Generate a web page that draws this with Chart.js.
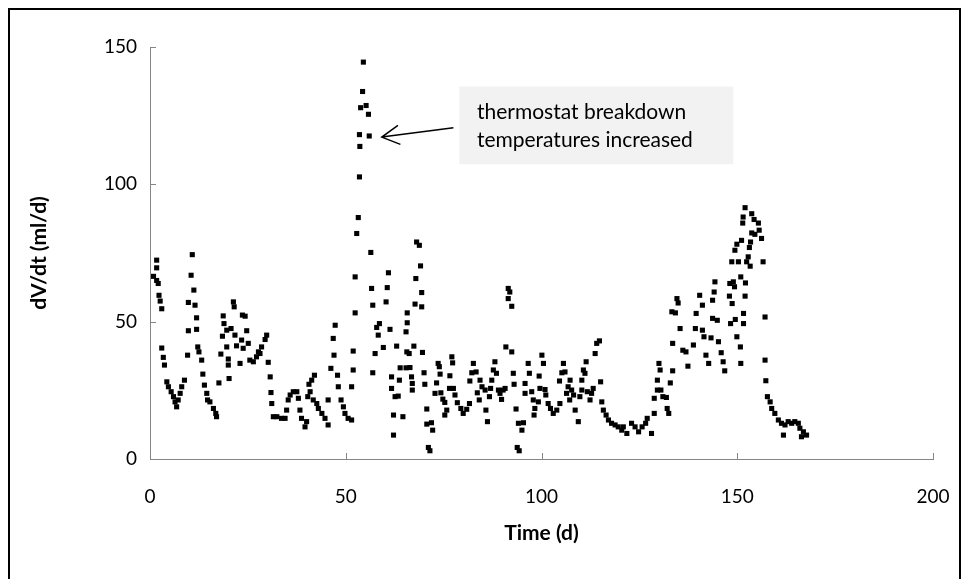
<!DOCTYPE html>
<html>
<head>
<meta charset="utf-8">
<script src="https://cdn.jsdelivr.net/npm/chart.js@4.4.0/dist/chart.umd.min.js"></script>
<style>
  html, body { margin: 0; padding: 0; background: #fff; }
  #wrap { position: relative; width: 963px; height: 579px; overflow: hidden; }
  #frame { position: absolute; left: 8px; top: 8px; width: 953px; height: 620px; border: 2px solid #000; box-sizing: border-box; }
  #c { position: absolute; left: 0; top: 0; }
</style>
</head>
<body>
<div id="wrap">
  <div id="frame"></div>
  <canvas id="c" width="963" height="579"></canvas>
</div>
<script>
// time (d) of each measurement
const timeD = [
  1.7, 1.7, 0.9, 1.7, 2.1, 2.3, 2.6, 3.0, 3.0, 3.4, 3.7, 4.3, 4.7, 5.4, 6.0, 6.4, 6.8, 7.2, 7.7, 8.1,
  8.8, 9.6, 9.8, 9.8, 10.5, 10.8, 11.2, 11.5, 11.9, 11.9, 12.2, 12.5, 13.2, 13.5, 13.9, 14.5, 14.7, 15.3, 16.2, 16.8,
  17.0, 17.6, 18.1, 18.5, 18.7, 18.9, 19.6, 19.6, 20.0, 20.0, 20.2, 20.7, 21.3, 21.5, 21.7, 22.1, 23.0, 23.4, 23.6, 23.8,
  24.3, 24.7, 25.1, 25.5, 26.4, 27.2, 27.7, 28.1, 28.5, 29.4, 29.8, 30.2, 30.7, 30.9, 31.1, 31.5, 32.4, 33.6, 34.5, 34.9,
  35.3, 35.8, 36.6, 37.5, 37.9, 38.3, 38.7, 39.6, 40.0, 40.3, 40.6, 40.9, 41.3, 42.0, 41.7, 42.6, 43.0, 43.9, 44.7, 45.5,
  45.5, 46.2, 46.8, 47.0, 47.3, 47.9, 48.1, 48.8, 49.4, 49.8, 50.6, 51.5, 51.5, 51.9, 51.9, 52.4, 52.4, 52.8, 53.2, 53.5,
  53.6, 53.5, 53.8, 54.3, 54.5, 55.2, 55.8, 56.0, 56.4, 56.6, 56.9, 56.9, 57.5, 57.9, 58.3, 58.6, 59.6, 60.3, 60.6, 60.9,
  61.3, 61.7, 61.7, 62.2, 62.2, 62.6, 63.0, 63.4, 63.7, 63.9, 64.6, 65.4, 65.4, 65.6, 65.7, 65.7, 66.2, 66.4, 66.8, 67.0,
  67.0, 67.4, 67.7, 67.9, 68.1, 68.8, 69.1, 69.4, 69.4, 69.6, 70.0, 70.2, 70.7, 70.7, 71.1, 71.5, 71.9, 72.2, 72.8, 73.2,
  73.6, 73.9, 74.1, 74.3, 74.8, 75.3, 75.3, 75.8, 76.5, 76.6, 77.1, 77.3, 77.5, 77.9, 78.5, 79.4, 80.0, 80.9, 81.6, 81.7,
  82.2, 82.6, 83.3, 83.6, 84.1, 84.3, 84.8, 85.6, 85.8, 86.2, 86.7, 87.0, 87.3, 87.7, 88.1, 88.5, 89.0, 89.4, 89.8, 90.2,
  90.7, 90.9, 91.5, 91.9, 91.5, 92.4, 92.4, 92.8, 93.0, 93.5, 94.1, 95.4, 95.0, 93.8, 94.3, 95.8, 95.8, 96.6, 96.9, 97.5,
  97.9, 98.3, 98.1, 99.2, 99.4, 99.6, 100.1, 100.5, 100.9, 101.1, 101.7, 102.3, 103.0, 103.9, 104.7, 104.6, 105.2, 105.6, 106.0, 106.4,
  106.8, 107.3, 107.7, 107.2, 108.2, 108.6, 109.4, 109.8, 110.3, 110.3, 110.7, 111.1, 111.4, 111.7, 112.4, 112.8, 113.2, 113.7, 114.1, 114.8,
  115.1, 115.4, 115.8, 116.5, 117.1, 117.9, 118.8, 119.6, 120.5, 120.9, 121.8, 123.0, 123.9, 124.8, 125.7, 126.6, 127.0, 128.1, 128.8, 128.8,
  129.6, 129.6, 130.0, 130.3, 130.5, 131.0, 131.9, 132.1, 132.5, 132.9, 133.5, 133.5, 133.3, 134.2, 134.6, 134.9, 135.4, 136.1, 136.9, 137.4,
  138.8, 139.3, 139.5, 140.4, 141.1, 141.1, 141.5, 142.0, 142.7, 143.3, 143.7, 143.7, 144.1, 144.3, 144.9, 145.2, 145.9, 146.4, 146.8, 148.0,
  148.1, 148.3, 148.6, 148.7, 149.0, 149.3, 149.4, 149.5, 149.9, 149.9, 150.3, 150.8, 150.9, 150.9, 151.1, 151.4, 151.5, 151.6, 151.6, 152.0,
  152.0, 152.1, 152.4, 152.8, 153.1, 153.3, 153.4, 153.7, 153.7, 154.3, 154.5, 155.4, 155.6, 156.2, 156.6, 157.1, 157.1, 157.3, 157.7, 158.4,
  158.8, 159.6, 160.5, 161.3, 161.8, 162.2, 163.0, 163.9, 164.7, 165.6, 166.0, 166.4, 166.9, 167.7
];

// dV/dt (ml/d), same order as timeD
const dVdt = [
  72.4, 69.6, 66.5, 65.0, 63.9, 59.6, 57.5, 54.7, 40.4, 37.0, 34.2, 28.1, 26.3, 24.5, 22.7, 20.8, 19.0, 21.5, 23.9, 26.3,
  28.7, 37.8, 46.7, 57.0, 66.9, 74.4, 61.5, 56.0, 51.4, 47.2, 40.8, 39.0, 36.0, 30.9, 26.9, 23.9, 21.5, 20.8, 18.4, 16.6,
  15.4, 27.7, 38.2, 44.7, 52.1, 49.3, 40.8, 46.9, 36.4, 34.2, 29.3, 47.5, 57.2, 55.4, 45.1, 41.2, 34.8, 43.3, 52.4, 40.3,
  52.0, 46.7, 42.1, 36.0, 35.4, 37.2, 39.0, 38.4, 40.8, 43.5, 45.1, 35.2, 29.9, 24.2, 20.2, 15.4, 15.4, 14.8, 14.8, 17.8,
  21.5, 23.3, 24.5, 24.5, 22.1, 17.8, 14.8, 11.7, 13.6, 22.7, 27.2, 24.5, 28.7, 30.5, 21.5, 20.2, 18.4, 16.6, 14.8, 12.4,
  21.5, 33.0, 43.9, 37.8, 48.7, 30.5, 26.3, 21.5, 19.0, 16.6, 14.8, 14.2, 26.3, 32.4, 39.3, 53.2, 66.3, 82.1, 87.9, 102.7,
  113.8, 118.1, 127.9, 133.8, 144.5, 128.7, 125.5, 117.6, 75.2, 62.1, 56.0, 31.4, 38.4, 47.9, 45.1, 49.3, 40.6, 57.2, 62.4, 67.8,
  47.2, 29.9, 25.7, 16.0, 8.7, 22.7, 41.1, 22.9, 28.7, 33.2, 15.4, 33.2, 46.3, 39.0, 49.6, 53.2, 38.4, 33.3, 29.9, 27.5,
  25.1, 41.1, 56.4, 65.7, 79.0, 77.8, 70.3, 60.6, 55.4, 38.8, 31.4, 27.2, 18.2, 12.7, 4.2, 3.0, 13.2, 10.5, 23.9, 27.7,
  34.8, 33.6, 30.9, 24.1, 21.8, 20.6, 16.0, 17.8, 25.7, 30.3, 37.2, 35.0, 25.7, 23.3, 20.5, 18.4, 16.6, 18.1, 20.2, 28.4,
  31.4, 34.8, 31.7, 24.1, 21.5, 28.7, 26.3, 25.1, 17.8, 13.6, 22.7, 25.7, 28.7, 32.4, 35.4, 31.2, 25.1, 23.9, 21.7, 25.1,
  25.7, 40.8, 62.1, 60.8, 58.4, 55.6, 39.0, 31.2, 27.2, 18.2, 13.0, 13.2, 10.5, 4.2, 3.0, 27.5, 23.9, 34.8, 31.2, 24.5,
  21.5, 18.4, 16.0, 20.8, 30.2, 25.7, 37.8, 34.8, 25.3, 23.3, 20.2, 18.4, 16.6, 17.8, 20.2, 28.4, 31.4, 34.8, 31.7, 23.9,
  26.3, 28.7, 25.1, 21.5, 23.3, 17.8, 13.6, 22.7, 25.1, 28.7, 32.4, 31.2, 35.4, 24.5, 21.5, 23.9, 25.7, 38.4, 42.1, 43.0,
  28.1, 20.8, 17.8, 16.0, 14.2, 13.0, 12.4, 11.7, 10.5, 11.7, 9.3, 13.0, 11.7, 9.9, 11.7, 13.0, 14.8, 9.3, 16.6, 22.1,
  25.1, 28.7, 34.8, 32.4, 25.1, 22.7, 22.4, 18.4, 16.6, 27.7, 32.1, 42.1, 53.6, 53.2, 58.4, 56.8, 47.5, 39.6, 39.0, 33.8,
  41.5, 47.5, 53.0, 59.6, 56.0, 46.9, 44.5, 37.8, 34.8, 44.1, 51.2, 57.8, 60.8, 64.5, 50.5, 42.7, 38.7, 35.4, 32.1, 59.3,
  63.9, 49.3, 71.8, 56.6, 64.5, 62.7, 76.0, 50.8, 44.5, 78.2, 71.8, 40.8, 34.8, 66.3, 79.6, 85.9, 88.1, 49.3, 53.0, 59.3,
  91.5, 64.1, 71.8, 73.6, 77.0, 70.2, 79.0, 82.3, 89.3, 87.2, 81.8, 85.9, 83.3, 80.3, 71.8, 51.7, 36.0, 28.5, 22.7, 20.8,
  18.4, 16.6, 14.2, 13.0, 8.7, 12.4, 13.6, 13.0, 13.6, 13.0, 11.2, 8.1, 9.9, 8.7
];

const xTicks = [0, 50, 100, 150, 200];
const yTicks = [0, 50, 100, 150];

const noteLines = ['thermostat breakdown', 'temperatures increased'];

const FONT = 'Lato, "Open Sans", sans-serif';
const AXIS_GRAY = '#868686';

const points = timeD.map((t, i) => ({ x: t, y: dVdt[i] }));

// inward tick marks + the note box with its arrow
const extras = {
  id: 'extras',
  afterDraw(chart) {
    const { ctx, scales: { x, y } } = chart;
    ctx.save();
    ctx.strokeStyle = AXIS_GRAY;
    ctx.lineWidth = 1;
    xTicks.forEach(v => {
      const px = Math.round(x.getPixelForValue(v)) + 0.5;
      ctx.beginPath();
      ctx.moveTo(px, y.bottom);
      ctx.lineTo(px, y.bottom - 6);
      ctx.stroke();
    });
    yTicks.forEach(v => {
      const py = Math.round(y.getPixelForValue(v)) + 0.5;
      ctx.beginPath();
      ctx.moveTo(x.left, py);
      ctx.lineTo(x.left + 6, py);
      ctx.stroke();
    });

    // note box
    const bx0 = x.getPixelForValue(79), bx1 = x.getPixelForValue(149);
    const by0 = y.getPixelForValue(135.6), by1 = y.getPixelForValue(107.3);
    ctx.fillStyle = '#f2f2f2';
    ctx.fillRect(bx0, by0, bx1 - bx0, by1 - by0);
    ctx.fillStyle = '#000';
    ctx.font = '21px ' + FONT;
    ctx.textBaseline = 'middle';
    ctx.fillText(noteLines[0], x.getPixelForValue(83.5), y.getPixelForValue(126.2));
    ctx.fillText(noteLines[1], x.getPixelForValue(83.5), y.getPixelForValue(116.0));

    // arrow
    const tx = x.getPixelForValue(59.2), ty = y.getPixelForValue(117.2);
    const sx = x.getPixelForValue(77.5), sy = y.getPixelForValue(120.6);
    const ang = Math.atan2(sy - ty, sx - tx);
    ctx.strokeStyle = '#000';
    ctx.lineWidth = 1.5;
    ctx.beginPath();
    ctx.moveTo(sx, sy);
    ctx.lineTo(tx, ty);
    ctx.moveTo(tx + 20 * Math.cos(ang - 0.5), ty + 20 * Math.sin(ang - 0.5));
    ctx.lineTo(tx, ty);
    ctx.lineTo(tx + 20 * Math.cos(ang + 0.5), ty + 20 * Math.sin(ang + 0.5));
    ctx.stroke();
    ctx.restore();
  }
};

new Chart(document.getElementById('c'), {
  type: 'scatter',
  data: {
    datasets: [{
      data: points,
      pointStyle: 'rect',
      pointRadius: 3.6,
      pointBorderWidth: 0,
      backgroundColor: '#000',
      borderColor: '#000'
    }]
  },
  options: {
    responsive: false,
    animation: false,
    layout: { padding: { top: 47, right: 30, left: 0, bottom: 0 } },
    plugins: { legend: { display: false }, tooltip: { enabled: false } },
    scales: {
      x: {
        type: 'linear',
        min: 0, max: 200,
        afterBuildTicks: s => { s.ticks = xTicks.map(v => ({ value: v })); },
        afterFit: s => { s.height = 120; s.paddingLeft = 0; s.paddingRight = 0; },
        grid: { drawOnChartArea: false, drawTicks: false },
        border: { color: AXIS_GRAY, width: 1 },
        ticks: { color: '#000', padding: 26, font: { family: FONT, size: 19 } },
        title: { display: true, text: 'Time (d)', color: '#000', padding: { top: 0, bottom: 33 }, font: { family: FONT, size: 21, weight: 'bold' } }
      },
      y: {
        type: 'linear',
        min: 0, max: 150,
        afterBuildTicks: s => { s.ticks = yTicks.map(v => ({ value: v })); },
        afterFit: s => { s.width = 150; s.paddingTop = 0; s.paddingBottom = 0; },
        grid: { drawOnChartArea: false, drawTicks: false },
        border: { color: AXIS_GRAY, width: 1 },
        ticks: { color: '#000', padding: 13, font: { family: FONT, size: 19 } },
        title: { display: true, text: 'dV/dt (ml/d)', color: '#000', padding: { top: 27, bottom: 0 }, font: { family: FONT, size: 21, weight: 'bold' } }
      }
    }
  },
  plugins: [extras]
});
</script>
</body>
</html>
